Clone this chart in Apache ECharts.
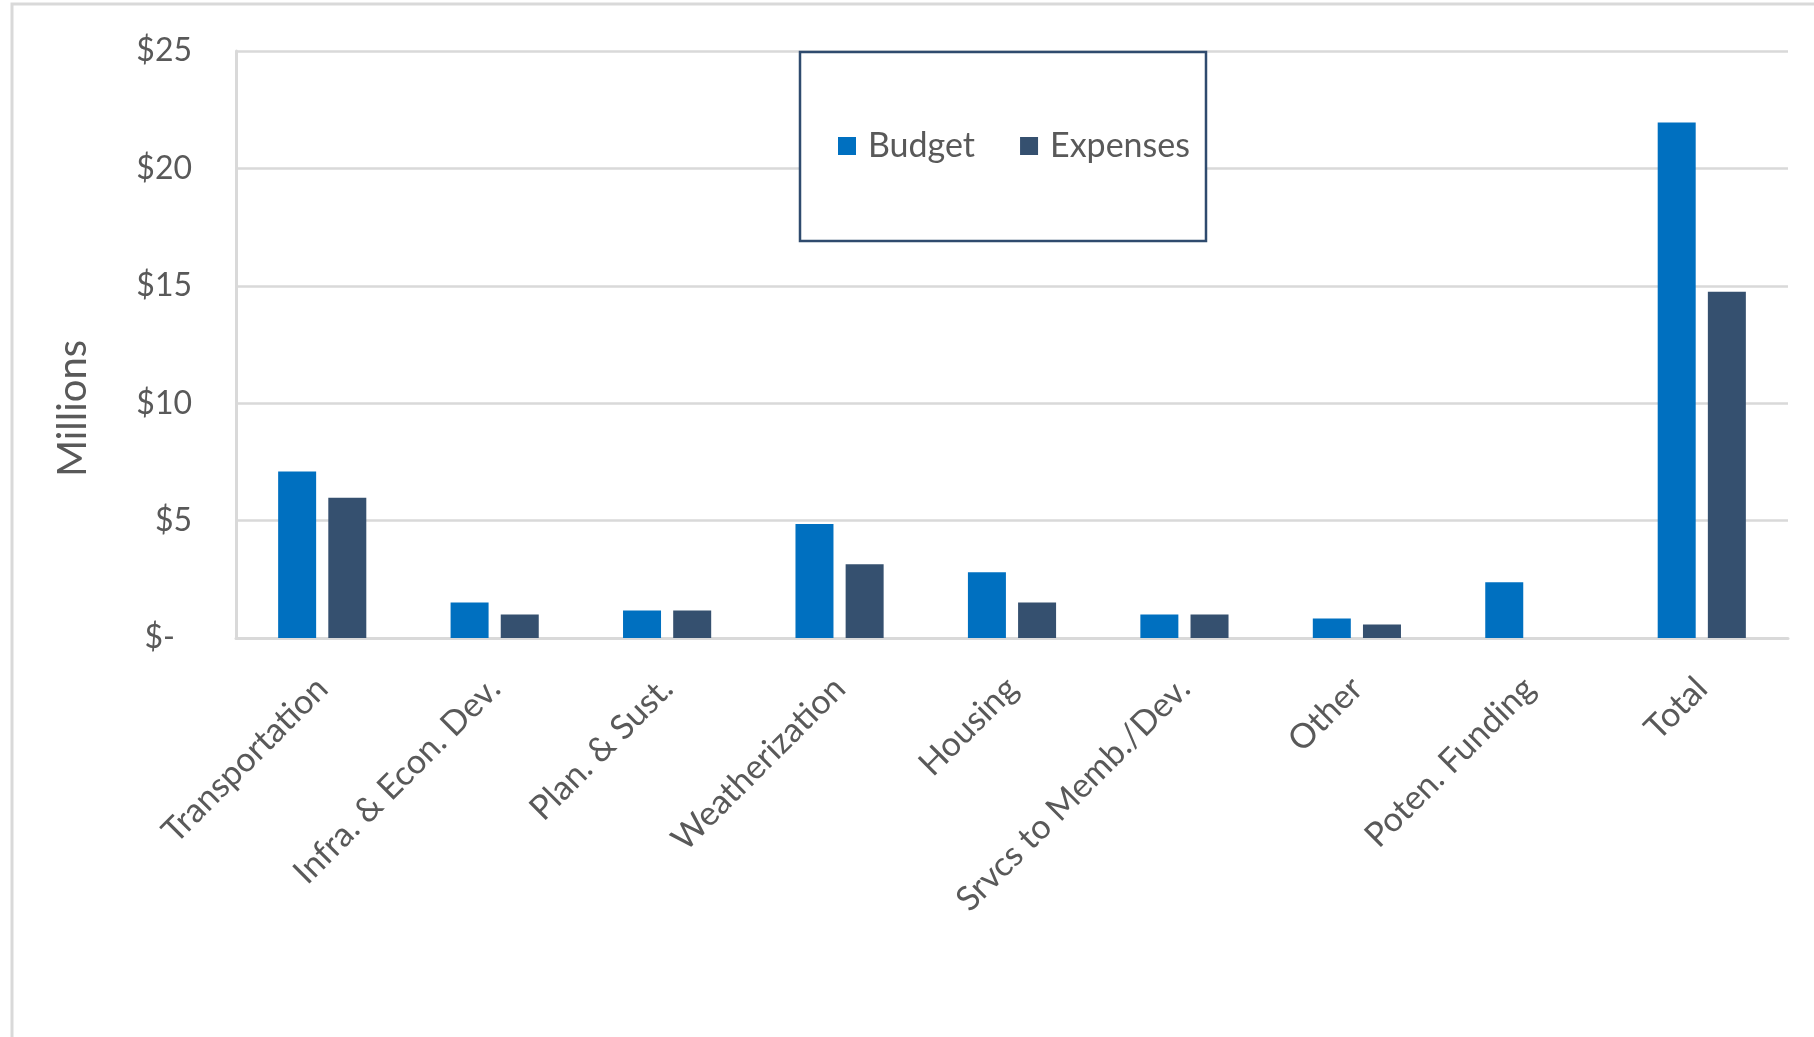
<!DOCTYPE html>
<html>
<head>
    <meta charset="utf-8">
    <title>Budget vs Expenses</title>
    <script src="https://cdn.jsdelivr.net/npm/echarts@6/dist/echarts.min.js"></script>
    <style>
        html, body { margin: 0; padding: 0; background: #fff; }
    </style>
</head>
<body>
    <div id="main" style="width:1814px;height:1037px;"></div>
    <script type="text/javascript">
        // values, in millions of dollars
        var categories = ['Transportation', 'Infra. & Econ. Dev.', 'Plan. & Sust.', 'Weatherization',
            'Housing', 'Srvcs to Memb./Dev.', 'Other', 'Poten. Funding', 'Total'];
        var budget = [7.09, 1.51, 1.17, 4.86, 2.8, 1.0, 0.83, 2.37, 21.95];
        var expenses = [5.97, 1.0, 1.17, 3.14, 1.51, 1.0, 0.57, 0, 14.75];
        var yTicks = [0, 5, 10, 15, 20, 25];

        var myChart = echarts.init(document.getElementById('main'));
        var labelColor = '#595959';
        var gridColor = '#D9D9D9';
        var font = 'Lato';

        var option = {
            backgroundColor: '#fff',
            animation: false,
            graphic: [{
                type: 'rect',
                shape: { x: 12, y: 4, width: 2000, height: 2000 },
                style: { fill: 'none', stroke: gridColor, lineWidth: 3 },
                z: -1
            }],
            legend: {
                data: ['Budget', 'Expenses'],
                left: 800,
                top: 52,
                orient: 'horizontal',
                icon: 'rect',
                itemWidth: 18,
                itemHeight: 18,
                itemGap: 45,
                padding: [76, 16, 77, 38],
                borderColor: '#2F4B6E',
                borderWidth: 2.5,
                backgroundColor: '#fff',
                textStyle: {
                    fontFamily: font,
                    fontSize: 34,
                    color: labelColor,
                    lineHeight: 36,
                    padding: [0, 0, 0, 7]
                }
            },
            grid: {
                left: 236,
                right: 26,
                top: 51,
                bottom: 399,
                containLabel: false
            },
            xAxis: {
                type: 'category',
                data: categories,
                axisTick: { show: false },
                axisLine: { show: true, lineStyle: { color: gridColor, width: 3 } },
                axisLabel: {
                    rotate: 45,
                    margin: 45,
                    interval: 0,
                    fontFamily: font,
                    fontSize: 34,
                    color: labelColor
                }
            },
            yAxis: {
                type: 'value',
                min: 0,
                max: 25,
                interval: 5,
                name: 'Millions',
                nameLocation: 'middle',
                nameGap: 143,
                nameTextStyle: {
                    fontFamily: font,
                    fontSize: 40,
                    color: labelColor,
                    padding: [0, 128, 0, 0]
                },
                axisLine: { show: true, lineStyle: { color: gridColor, width: 3 } },
                axisTick: { show: false },
                splitLine: { lineStyle: { color: gridColor, width: 2.5 } },
                axisLabel: {
                    margin: 44,
                    fontFamily: font,
                    fontSize: 32,
                    color: labelColor,
                    formatter: function (v) {
                        if (yTicks.indexOf(v) < 0) return '';
                        return v === 0 ? '{z|$-}' : '$' + v;
                    },
                    rich: {
                        z: { fontFamily: font, fontSize: 32, color: labelColor, padding: [0, 17, 0, 0] }
                    }
                }
            },
            series: [{
                name: 'Budget',
                type: 'bar',
                data: budget,
                barWidth: 38,
                barGap: '32%',
                itemStyle: { color: '#0070C0' }
            }, {
                name: 'Expenses',
                type: 'bar',
                data: expenses,
                barWidth: 38,
                itemStyle: { color: '#35506F' }
            }]
        };

        myChart.setOption(option);
    </script>
</body>
</html>
